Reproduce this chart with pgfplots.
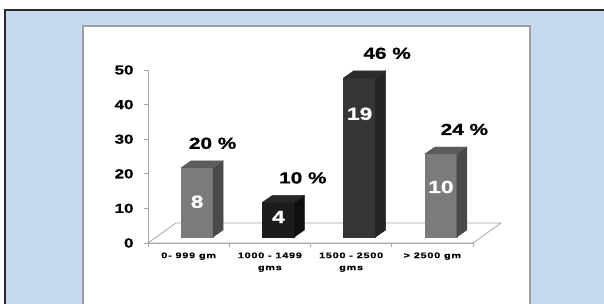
\documentclass[border=0pt]{standalone}
\usepackage{pgfplots}
\pgfplotsset{compat=1.18}
\usepackage{fontspec}
\setmainfont{Liberation Sans}[FakeStretch=1.3, BoldFeatures={FakeBold=1}]
\newfontfamily\xfont{Liberation Sans}[FakeStretch=1.35, LetterSpace=10, BoldFeatures={FakeBold=0.8}]
\definecolor{bgblue}{RGB}{198,217,240}
\definecolor{frame}{RGB}{42,42,42}
\definecolor{gfront}{RGB}{123,123,123}
\definecolor{gside}{RGB}{74,74,74}
\definecolor{gtop}{RGB}{92,92,92}
\definecolor{kfront}{RGB}{28,28,28}
\definecolor{kside}{RGB}{16,16,16}
\definecolor{ktop}{RGB}{40,40,40}
\definecolor{dfront}{RGB}{53,53,53}
\definecolor{dside}{RGB}{36,36,36}
\definecolor{dtop}{RGB}{44,44,44}

% args: front, side, top colour, count inside, inside label drop (pt), percent label shift (pt)
\pgfplotsset{
  bar3d/.style n args={6}{
    scatter, only marks, mark=x, mark size=0pt,
    visualization depends on={rawy \as \vv},
    scatter/@pre marker code/.append code={
      \pgfmathsetmacro\bb{6-\vv*3.46}
      \fill[#1, opacity=1] (-7.5pt,6pt) rectangle (24.5pt,\bb pt);
      \fill[#2, opacity=1] (24.5pt,6pt) -- ++(10pt,7pt) -- ++(0pt,\bb pt-6pt) -- (24.5pt,\bb pt) -- cycle;
      \fill[#3, opacity=1] (-7.5pt,6pt) -- ++(10pt,7pt) -- ++(32pt,0pt) -- (24.5pt,6pt) -- cycle;
      \node[text=white, opacity=1, inner sep=0pt, font=\bfseries\fontsize{17.5}{17.5}\selectfont] at (8.5pt,-#5pt) {#4};
      \node[text=black, opacity=1, anchor=base, inner sep=0pt, font=\bfseries\fontsize{16}{16}\selectfont] at (#6pt, 25pt) {\pgfmathprintnumber[fixed, precision=0]{\vv}\ \%};
    },
  }
}

\begin{document}
\begin{tikzpicture}
\useasboundingbox (0,0) rectangle (604pt,304pt);
\fill[white] (0,0) rectangle (604pt,304pt);
\fill[bgblue] (5pt,-2pt) rectangle (606pt,294pt);
\draw[frame, line width=2.5pt] (5pt,-2pt) -- (5pt,294pt) -- (606pt,294pt);
\filldraw[fill=white, draw=gray!75, line width=1.3pt] (83pt,-5pt) rectangle (530pt,278pt);
\begin{axis}[
  at={(148pt,61pt)}, anchor=south west,
  x=81.25pt, y=3.46pt,
  xmin=0, xmax=4, ymin=0, ymax=50,
  clip=false,
  axis x line*=bottom, axis y line*=left,
  axis line style={draw=gray!70, line width=0.8pt},
  tick align=outside,
  major tick length=4pt,
  tick style={draw=gray!70, line width=0.8pt},
  ytick={0,10,...,50},
  /pgf/number format/assume math mode=true,
  yticklabel style={font=\bfseries\fontsize{13}{13}\selectfont, xshift=-7pt},
  xtick={0,1,2,3,4},
  xticklabels={},
  extra x ticks={0.5,1.5,2.5,3.5},
  extra x tick labels={0- 999 gm, 1000 - 1499\\gms, 1500 - 2500\\gms, > 2500 gm},
  extra x tick style={major tick length=0pt, tick style={draw=none},
    xticklabel style={font=\xfont\bfseries\fontsize{8}{12}\selectfont, align=center, anchor=north, yshift=-6pt}},
]
\draw[gray!70, line width=0.8pt, fill=white] (axis cs:0,0) -- (axis cs:4,0) -- ++(28pt,20pt) -- ++(-325pt,0pt) -- cycle;
\addplot[bar3d={gfront}{gside}{gtop}{8}{28}{24}] coordinates {(0.5,20)};
\addplot[bar3d={kfront}{kside}{ktop}{4}{8.6}{33}] coordinates {(1.5,10)};
\addplot[bar3d={dfront}{dside}{dtop}{19}{30}{36}] coordinates {(2.5,46)};
\addplot[bar3d={gfront}{gside}{gtop}{10}{27}{32}] coordinates {(3.5,24)};
\end{axis}
\end{tikzpicture}
\end{document}
